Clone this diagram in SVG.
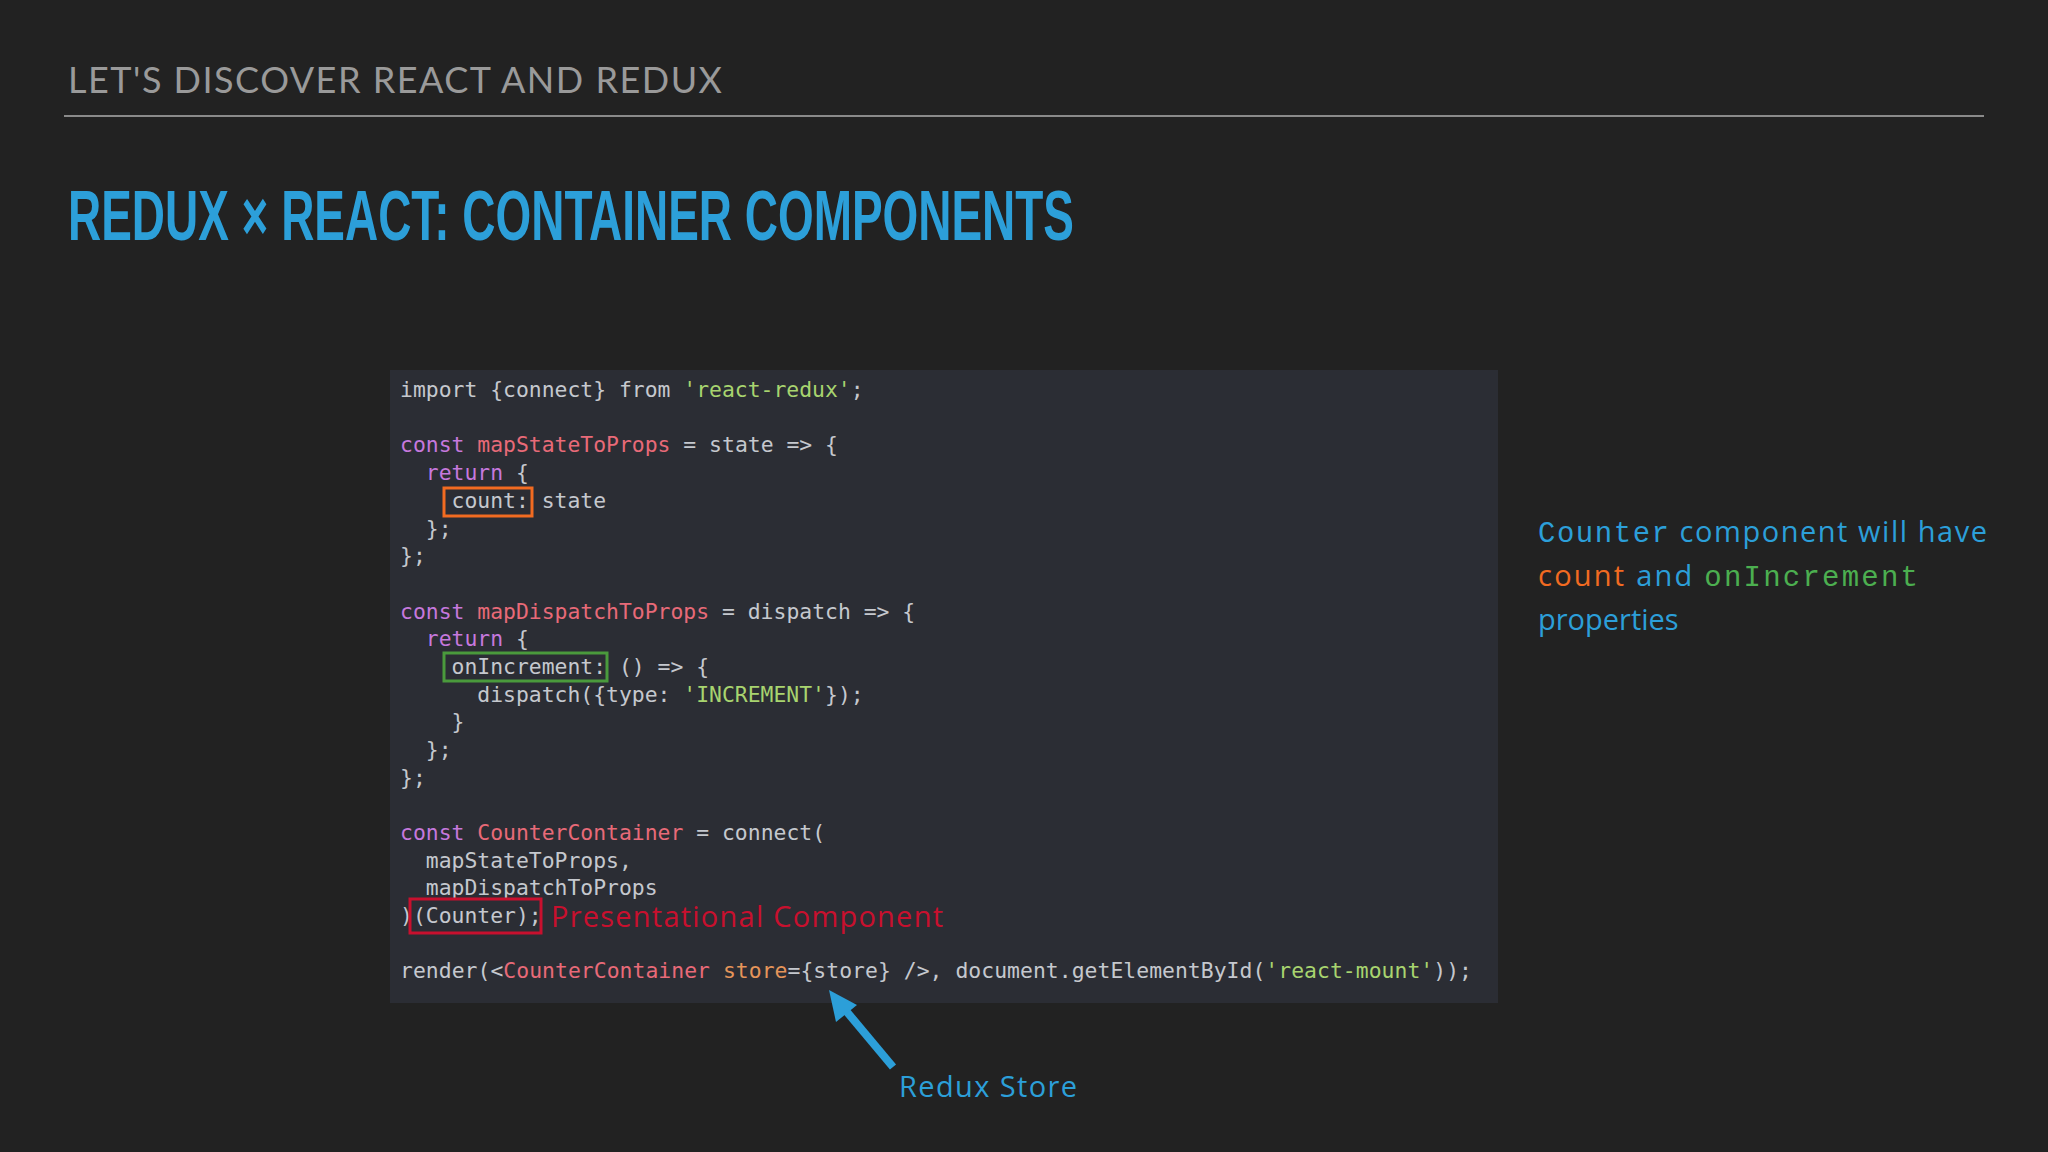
<svg xmlns="http://www.w3.org/2000/svg" width="2048" height="1152" viewBox="0 0 2048 1152">
<style>
.c{font-family:"DejaVu Sans Mono","Liberation Mono",monospace;font-size:21.4px;fill:#c5c8ce;white-space:pre}
.k{fill:#c678dd}.n{fill:#e86a78}.s{fill:#a8d46f}.a{fill:#e5955a}
.r{font-family:"Open Sans","Noto Sans",sans-serif;font-size:29px}
</style>
<rect width="2048" height="1152" fill="#222222"/>
<text x="68" y="93" font-family="Lato,'Noto Sans',sans-serif" font-size="36" fill="#9a9a9a" letter-spacing="1.5">LET'S DISCOVER REACT AND REDUX</text>
<rect x="64" y="115" width="1920" height="2" fill="#8a8a8a"/>
<text x="68" y="240" font-family="'Liberation Sans','Noto Sans',sans-serif" font-weight="bold" font-size="70" fill="#2c9fd9" textLength="1006" lengthAdjust="spacingAndGlyphs">REDUX × REACT: CONTAINER COMPONENTS</text>
<g id="code">
<rect x="390" y="370" width="1108" height="633" fill="#2b2d34"/>
<text class="c" x="400" y="397">import {connect} from <tspan class="s">'react-redux'</tspan>;</text>
<text class="c" x="400" y="452"><tspan class="k">const</tspan> <tspan class="n">mapStateToProps</tspan> = state =&gt; {</text>
<text class="c" x="400" y="480"><tspan class="k">  return</tspan> {</text>
<text class="c" x="400" y="508">    count: state</text>
<text class="c" x="400" y="536">  };</text>
<text class="c" x="400" y="563">};</text>
<text class="c" x="400" y="619"><tspan class="k">const</tspan> <tspan class="n">mapDispatchToProps</tspan> = dispatch =&gt; {</text>
<text class="c" x="400" y="646"><tspan class="k">  return</tspan> {</text>
<text class="c" x="400" y="674">    onIncrement: () =&gt; {</text>
<text class="c" x="400" y="702">      dispatch({type: <tspan class="s">'INCREMENT'</tspan>});</text>
<text class="c" x="400" y="729">    }</text>
<text class="c" x="400" y="757">  };</text>
<text class="c" x="400" y="785">};</text>
<text class="c" x="400" y="840"><tspan class="k">const</tspan> <tspan class="n">CounterContainer</tspan> = connect(</text>
<text class="c" x="400" y="868">  mapStateToProps,</text>
<text class="c" x="400" y="895">  mapDispatchToProps</text>
<text class="c" x="400" y="923">)(Counter);</text>
<text class="c" x="400" y="978" textLength="1072">render(&lt;<tspan class="n">CounterContainer</tspan> <tspan class="a">store</tspan>={store} /&gt;, document.getElementById(<tspan class="s">'react-mount'</tspan>));</text>
</g>
<g id="highlights" fill="none" stroke-width="3">
<rect x="444" y="488" width="88" height="28" stroke="#f26b21"/>
<rect x="444" y="653" width="163" height="28" stroke="#4a9a3c"/>
<rect x="410" y="899" width="131" height="34" stroke="#c8102e"/>
</g>
<text x="551" y="927" class="r" fill="#c8102e" textLength="392">Presentational Component</text>
<g id="note" class="r">
<text x="1538" y="542" textLength="449"><tspan fill="#2c9fd9" font-family="'Liberation Mono',monospace" font-size="29">Counter</tspan><tspan fill="#2c9fd9"> component will have</tspan></text>
<text x="1538" y="586" textLength="380"><tspan fill="#f26b21">count</tspan><tspan fill="#2c9fd9"> and </tspan><tspan fill="#4caf50" font-family="'Liberation Mono',monospace" font-size="29">onIncrement</tspan></text>
<text x="1538" y="630" fill="#2c9fd9">properties</text>
</g>
<g id="connectors">
<line x1="893" y1="1067" x2="842" y2="1006" stroke="#2c9fd9" stroke-width="8"/>
<polygon points="829,990 857,1005 836,1022" fill="#2c9fd9"/>
</g>
<text x="899" y="1097" class="r" fill="#2c9fd9" textLength="178">Redux Store</text>
</svg>
